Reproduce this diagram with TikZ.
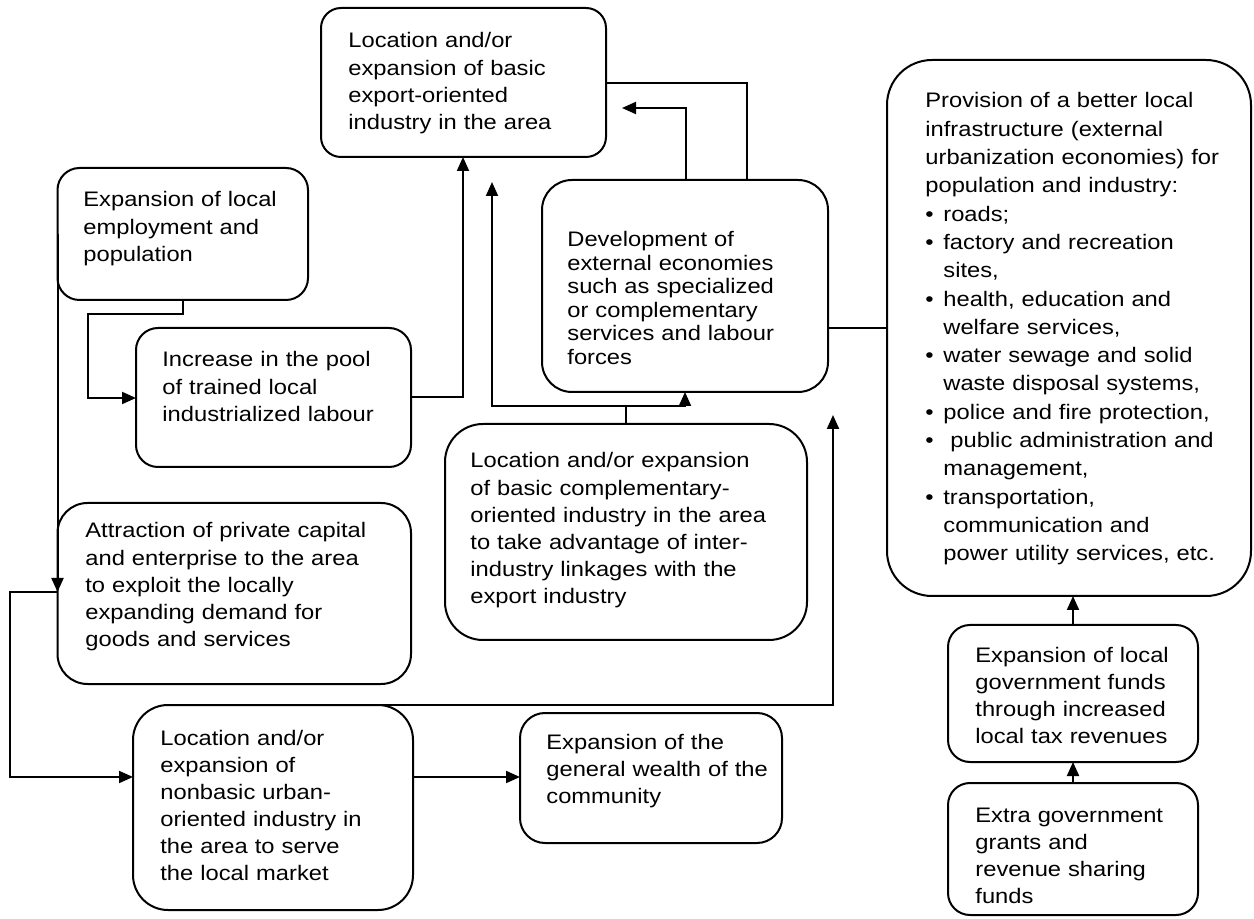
\documentclass[tikz,border=0pt]{standalone}
\usepackage{fontspec}
\setmainfont{Liberation Sans}[FakeStretch=1.13]
\usetikzlibrary{arrows.meta}
\newcommand\BX[6]{\node[box, rounded corners={#6*0.5pt}, minimum width={(#4-#2)*0.5pt}, minimum height={(#5-#3)*0.5pt}] (#1) at (#2,#3) {};}
\begin{document}
\begin{tikzpicture}[x=0.5pt,y=-0.5pt,
  box/.style={draw, line width=1pt, anchor=north west, inner sep=0pt, outer sep=0pt},
  txt/.style={anchor=base west, inner sep=0pt, align=left, text width=190pt, font=\fontsize{10.5pt}{13.6pt}\selectfont},
  arr/.style={-{Triangle[length=7pt,width=6pt]}, line width=1pt},
  ln/.style={line width=1pt}]
\useasboundingbox (0,0) rectangle (1254,919);
% boxes
\BX{B1}{321}{8}{606}{157}{20}
\BX{B2}{57.5}{168}{308}{300}{22}
\BX{B3}{136}{328}{411}{467}{22}
\BX{B4}{542}{180}{828}{392}{30}
\BX{B5}{887}{60}{1251}{596}{45}
\BX{B6}{445}{424}{807}{640}{38}
\BX{B7}{57.5}{503}{411}{684}{30}
\BX{B8}{133}{705}{413}{910}{35}
\BX{B9}{520}{713}{782}{843}{25}
\BX{B10}{948}{625}{1198}{762}{22}
\BX{B11}{948}{783}{1198}{915}{22}
% texts
\node[txt] (t1) at (348,48) {Location and/or\\expansion of basic\\export-oriented\\industry in the area};
\node[txt] (t2) at (83,207) {Expansion of local\\employment and\\population};
\node[txt] (t3) at (162,367) {Increase in the pool\\of trained local\\industrialized labour};
\node[txt, font=\fontsize{10.5pt}{11.75pt}\selectfont] (t4) at (567,247) {Development of\\external economies\\such as specialized\\or complementary\\services and labour\\forces};
\node[txt, font=\fontsize{10.5pt}{14.15pt}\selectfont] (t5) at (925,108) {Provision of a better local\\infrastructure (external\\urbanization economies) for\\population and industry:\\
\makebox[9pt][l]{\textbullet}roads;\\
\makebox[9pt][l]{\textbullet}factory and recreation\\\hspace*{9pt}sites,\\
\makebox[9pt][l]{\textbullet}health, education and\\\hspace*{9pt}welfare services,\\
\makebox[9pt][l]{\textbullet}water sewage and solid\\\hspace*{9pt}waste disposal systems,\\
\makebox[9pt][l]{\textbullet}police and fire protection,\\
\makebox[9pt][l]{\textbullet}\ public administration and\\\hspace*{9pt}management,\\
\makebox[9pt][l]{\textbullet}transportation,\\\hspace*{9pt}communication and\\\hspace*{9pt}power utility services, etc.};
\node[txt] (t6) at (470,468) {Location and/or expansion\\of basic complementary-\\oriented industry in the area\\to take advantage of inter-\\industry linkages with the\\export industry};
\node[txt] (t7) at (85,538) {Attraction of private capital\\and enterprise to the area\\to exploit the locally\\expanding demand for\\goods and services};
\node[txt] (t8) at (160,745) {Location and/or\\expansion of\\nonbasic urban-\\oriented industry in\\the area to serve\\the local market};
\node[txt] (t9) at (546,749) {Expansion of the\\general wealth of the\\community};
\node[txt] (t10) at (975,662) {Expansion of local\\government funds\\through increased\\local tax revenues};
\node[txt] (t11) at (975,822) {Extra government\\grants and\\revenue sharing\\funds};
% free ends and junctions
\coordinate (F) at (833,415);
\coordinate (G) at (492,182);
\coordinate (H) at (622,108);
\coordinate (J) at (626,406);
% connectors
\draw[arr] (B3.east) -| (B1.south -| 463,0);
\draw[arr] (B2.south -| 183,0) -- ++(0,14) -| (88,398) -- (B3.west |- 0,398);
\draw[arr] (B2.west) -- (B7.west |- 0,592);
\draw[arr] (B7.west |- 0,592) -- (10,592) -- (10,777) -- (B8.west |- 0,777);
\draw[arr] (255,705) -- (833,705) -- (F);
\draw[arr] (B8.east |- 0,777) -- (B9.west |- 0,777);
\draw[ln] (B6.north) -- (J);
\draw[arr] (J) -| (G);
\draw[arr] (J) -| (B4.south -| 685,0);
\draw[arr] (B4.north -| 686,0) |- (H);
\draw[ln] (B4.north -| 747,0) |- (B1.east |- 0,83);
\draw[ln] (B4.east |- 0,328) -- (B5.west |- 0,328);
\draw[arr] (B10.north -| 1073,0) -- (B5.south -| 1073,0);
\draw[arr] (B11.north -| 1073,0) -- (B10.south -| 1073,0);
\end{tikzpicture}
\end{document}
